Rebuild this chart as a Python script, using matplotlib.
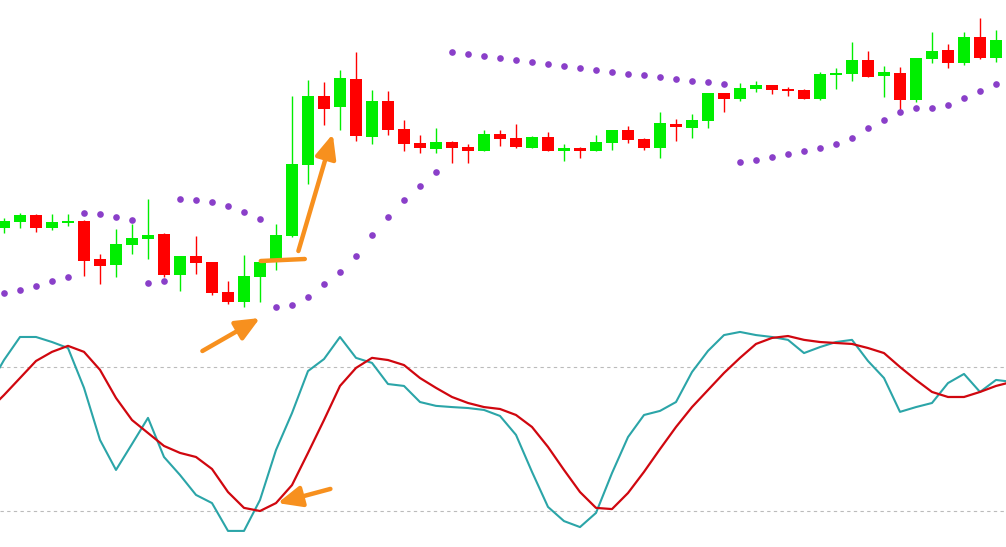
import matplotlib
matplotlib.use("Agg")
import matplotlib.pyplot as plt
import numpy as np

# candles (arbitrary price units)
opens = [122, 128, 135, 122, 127, 129, 91, 85, 105, 111, 116, 75, 94, 88, 58, 48,
         73, 91, 114, 185, 254, 243, 271, 213, 249, 221, 207, 201, 208, 203, 199, 216,
         212, 202, 213, 199, 202, 199, 207, 220, 211, 202, 226, 222, 229, 257, 251, 261,
         265, 261, 260, 251, 275, 276, 290, 274, 277, 250, 291, 300, 287, 313, 292]
highs = [132, 137, 136, 136, 136, 130, 96, 121, 126, 151, 117, 94, 114, 88, 69, 95,
         88, 126, 254, 270, 268, 280, 298, 260, 259, 230, 215, 222, 209, 206, 220, 220,
         226, 214, 218, 206, 203, 215, 220, 224, 212, 238, 231, 236, 257, 257, 267, 269,
         265, 263, 261, 278, 282, 308, 299, 284, 283, 292, 318, 306, 318, 332, 320]
lows = [117, 122, 118, 120, 124, 74, 66, 73, 96, 91, 73, 59, 76, 55, 46, 43,
        48, 80, 113, 166, 225, 220, 209, 206, 215, 199, 197, 197, 187, 187, 199, 204,
        202, 202, 199, 189, 192, 199, 200, 207, 200, 192, 209, 212, 222, 238, 249, 258,
        256, 254, 251, 250, 261, 269, 273, 253, 238, 248, 287, 282, 285, 291, 288]
closes = [129, 135, 122, 128, 129, 89, 84, 106, 112, 115, 75, 94, 87, 57, 48, 74,
          88, 115, 186, 254, 241, 272, 214, 249, 220, 206, 202, 208, 202, 199, 216, 211,
          203, 213, 199, 202, 199, 208, 220, 210, 202, 227, 223, 230, 257, 251, 262, 265,
          260, 259, 251, 276, 277, 290, 273, 278, 250, 292, 299, 287, 313, 292, 310]

# parabolic SAR
sar = [57, 60, 64, 69, 73, 137, 136, 133, 130, 67, 69, 151, 150, 148, 144, 138,
       131, 43, 45, 53, 66, 78, 94, 115, 133, 150, 164, 178, 298, 296, 294, 292,
       290, 288, 286, 284, 282, 280, 278, 276, 275, 273, 271, 269, 268, 266, 188, 190,
       193, 196, 199, 202, 206, 212, 222, 230, 238, 242, 242, 245, 252, 259, 266]

# stochastic (%K teal, %D red), starts one bar before first candle
stoch_k = [71.3, 82.9, 92.5, 92.5, 90.4, 87.9, 71.3, 49.6, 37.1, 47.9, 58.8, 42.5,
           35.0, 26.7, 23.3, 11.7, 11.7, 24.6, 45.4, 60.8, 78.3, 83.3, 92.5, 83.8,
           81.7, 72.9, 72.1, 65.4, 63.8, 63.3, 62.9, 62.1, 59.6, 51.7, 36.3, 21.7,
           15.8, 13.3, 19.2, 35.8, 50.8, 60.0, 61.7, 65.4, 77.9, 86.7, 93.3, 94.6,
           93.3, 92.5, 91.3, 85.8, 88.3, 90.4, 91.3, 82.5, 75.4, 61.3, 63.3, 65.0,
           73.3, 77.1, 69.6, 74.6, 73.8]
stoch_d = [61.7, 68.3, 75.4, 82.5, 86.3, 88.8, 86.3, 78.8, 67.1, 57.9, 52.5, 47.1,
           44.2, 42.5, 37.5, 27.9, 21.3, 20.0, 23.3, 30.8, 44.2, 57.9, 72.1, 79.6,
           83.8, 82.9, 80.8, 75.4, 71.3, 67.5, 65.0, 63.3, 62.5, 60.0, 55.0, 46.7,
           37.1, 27.9, 21.3, 20.8, 27.5, 36.3, 45.8, 55.0, 63.3, 70.4, 77.5, 83.8,
           89.6, 92.1, 92.9, 91.3, 90.4, 90.0, 89.6, 87.9, 85.8, 80.0, 74.6, 69.6,
           67.5, 67.5, 69.6, 72.1, 73.8]
levels = [80, 20]

# orange annotations: (tail, head) in bar index / price units
price_arrows = [((12.4, -1), (16.0, 32)), ((18.4, 99), (20.55, 216))]
support_line = ((16.05, 18.8), (89, 91))
stoch_arrow = ((20.4, 29.2), (17.1, 23.3))

GREEN = "#00ee00"
RED = "#ff0000"
ORANGE = "#f7901e"

fig = plt.figure(figsize=(10.06, 5.47), dpi=100)
ax = fig.add_axes([0, 0, 1, 1])
ax2 = fig.add_axes([0, 0, 1, 1])
ax2.patch.set_alpha(0)

x = np.arange(len(opens))
o = np.array(opens)
c = np.array(closes)
cols = [GREEN if cc >= oo else RED for oo, cc in zip(o, c)]

ax.vlines(x, lows, highs, colors=cols, linewidth=1.0, zorder=2)
ax.bar(x, np.maximum(np.abs(c - o), 1.5), bottom=np.minimum(o, c), width=0.7,
       color=cols, linewidth=0, zorder=3)
ax.plot(x, sar, "o", color="#8a3fc9", markersize=4.8, markeredgewidth=0, zorder=4)

ax.set_xlim(-0.25, 62.625)
ax.set_ylim(-197, 350)

xs = np.arange(-1, len(stoch_k) - 1)
for lv in levels:
    ax2.axhline(lv, color="#bbbbbb", linestyle=(0, (3, 3)), linewidth=0.8, zorder=1)
ax2.plot(xs, stoch_k, color="#2ba5a8", linewidth=1.5, zorder=2)
ax2.plot(xs, stoch_d, color="#d0070f", linewidth=1.6, zorder=3)
ax2.set_xlim(-0.25, 62.625)
ax2.set_ylim(5, 232.9)

aprops = dict(arrowstyle="-|>,head_length=0.8,head_width=0.35", color=ORANGE,
              lw=3.2, mutation_scale=18, shrinkA=0, shrinkB=0, capstyle="round")
for tail, head in price_arrows:
    ax.annotate("", xy=head, xytext=tail, arrowprops=aprops, zorder=6)
ax.plot(support_line[0], support_line[1], color=ORANGE, linewidth=3.2,
        solid_capstyle="round", zorder=6)
ax2.annotate("", xy=stoch_arrow[1], xytext=stoch_arrow[0], arrowprops=aprops, zorder=6)

for a in (ax, ax2):
    a.axis("off")

fig.savefig("out.png", dpi=100, facecolor="white")
